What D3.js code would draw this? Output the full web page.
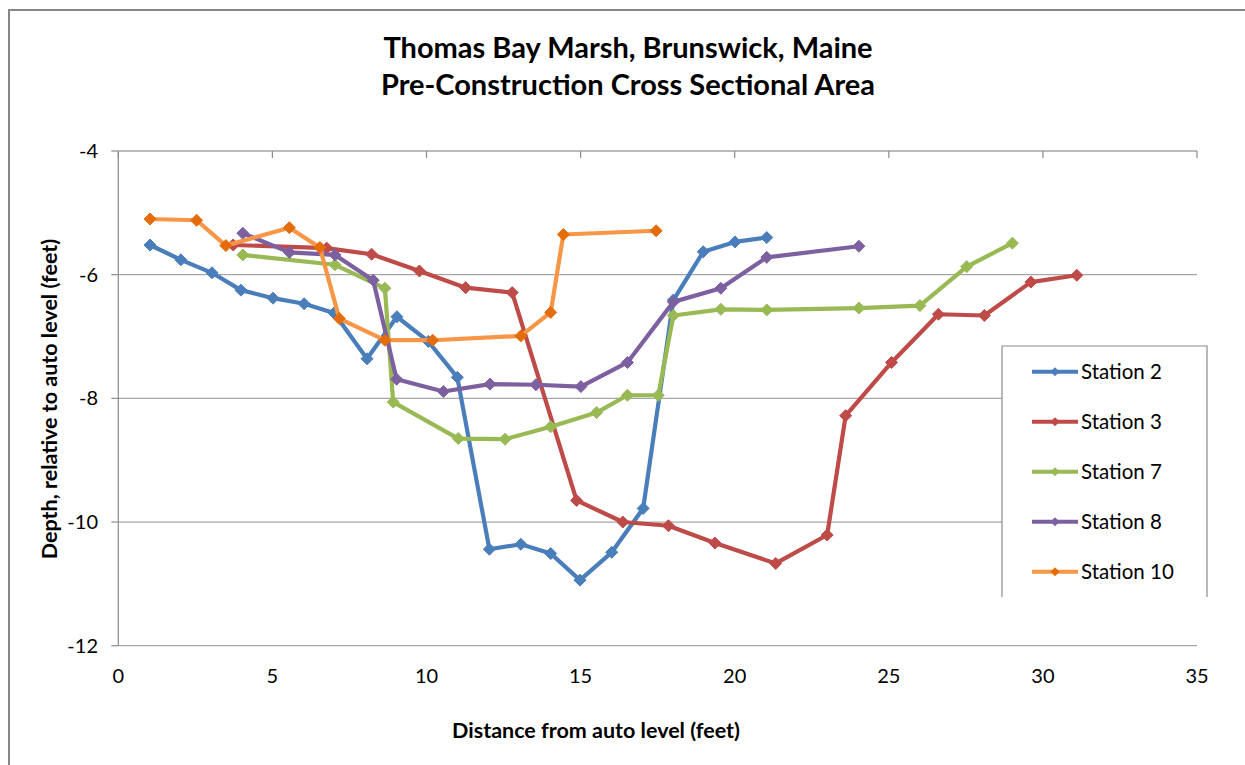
<!DOCTYPE html>
<html>
<head>
<meta charset="utf-8">
<script src="https://cdn.jsdelivr.net/npm/d3@7"></script>
<style>
  html, body { margin: 0; padding: 0; background: #fff; }
  svg { display: block; }
  text { font-family: Lato, "Open Sans", sans-serif; fill: #000; }
</style>
</head>
<body>
<svg id="chart" width="1245" height="765"></svg>
<script>
// ---- data ----
const titleLines = ["Thomas Bay Marsh, Brunswick, Maine", "Pre-Construction Cross Sectional Area"];
const xAxisTitle = "Distance from auto level (feet)";
const yAxisTitle = "Depth, relative to auto level (feet)";
const xTicks = [0, 5, 10, 15, 20, 25, 30, 35];
const yTicks = [-4, -6, -8, -10, -12];
const seriesNames = ["Station 2", "Station 3", "Station 7", "Station 8", "Station 10"];

const station2X = [1.03, 2.03, 3.04, 3.98, 5.02, 6.03, 7.0, 8.07, 9.04, 10.06, 11.0, 12.04, 13.06, 14.03, 14.98, 16.01, 17.03, 18.01, 18.98, 20.01, 21.04];
const station2Y = [-5.52, -5.76, -5.97, -6.25, -6.38, -6.47, -6.62, -7.36, -6.68, -7.08, -7.66, -10.44, -10.36, -10.51, -10.94, -10.49, -9.78, -6.41, -5.63, -5.47, -5.40];

const station3X = [3.73, 6.76, 8.22, 9.77, 11.27, 12.78, 14.87, 16.37, 17.85, 19.36, 21.33, 23.0, 23.6, 25.09, 26.61, 28.1, 29.61, 31.1];
const station3Y = [-5.52, -5.57, -5.67, -5.94, -6.21, -6.29, -9.65, -10.0, -10.06, -10.34, -10.67, -10.21, -8.28, -7.42, -6.64, -6.66, -6.12, -6.01];

const station7X = [4.04, 7.03, 8.65, 8.92, 11.03, 12.55, 14.03, 15.52, 16.52, 17.52, 18.01, 19.55, 21.04, 24.03, 26.01, 27.53, 29.01];
const station7Y = [-5.68, -5.84, -6.22, -8.06, -8.65, -8.66, -8.46, -8.23, -7.95, -7.95, -6.66, -6.56, -6.57, -6.54, -6.50, -5.87, -5.49];

const station8X = [4.04, 5.55, 7.03, 8.27, 9.03, 10.55, 12.06, 13.55, 15.01, 16.52, 18.01, 19.55, 21.04, 24.03];
const station8Y = [-5.33, -5.64, -5.68, -6.09, -7.69, -7.89, -7.77, -7.78, -7.81, -7.42, -6.44, -6.22, -5.72, -5.54];

const station10X = [1.03, 2.54, 3.49, 5.55, 6.54, 7.17, 8.65, 10.2, 13.06, 14.03, 14.44, 17.45];
const station10Y = [-5.10, -5.12, -5.53, -5.24, -5.56, -6.71, -7.06, -7.06, -6.99, -6.61, -5.35, -5.29];

const lineColors = ["#4A7EBB", "#BE4B48", "#98B954", "#7D60A0", "#F79646"];
const markerColors = ["#4A7EBB", "#BE4B48", "#98B954", "#7D60A0", "#E46C0A"];

const seriesX = [station2X, station3X, station7X, station8X, station10X];
const seriesY = [station2Y, station3Y, station7Y, station8Y, station10Y];

// ---- layout ----
const svg = d3.select("#chart");
const plot = { left: 118.3, right: 1197, top: 151, bottom: 645.7 };
const x = d3.scaleLinear().domain([0, 35]).range([plot.left, plot.right]);
const y = d3.scaleLinear().domain([-12, -4]).range([plot.bottom, plot.top]);

// outer chart border
svg.append("path")
  .attr("d", "M9,770 L9,10 L1250,10")
  .attr("fill", "none").attr("stroke", "#868686").attr("stroke-width", 2);

// gridlines
svg.append("g").selectAll("line").data(yTicks).join("line")
  .attr("x1", plot.left).attr("x2", plot.right)
  .attr("y1", d => y(d)).attr("y2", d => y(d))
  .attr("stroke", "#a6a6a6").attr("stroke-width", 1.3);

// y axis line + ticks
svg.append("line").attr("x1", plot.left).attr("x2", plot.left)
  .attr("y1", plot.top).attr("y2", plot.bottom)
  .attr("stroke", "#8c8c8c").attr("stroke-width", 1.2);
svg.append("g").selectAll("line").data(yTicks).join("line")
  .attr("x1", plot.left - 7).attr("x2", plot.left)
  .attr("y1", d => y(d)).attr("y2", d => y(d))
  .attr("stroke", "#8c8c8c").attr("stroke-width", 1.2);
svg.append("g").selectAll("text").data(yTicks).join("text")
  .attr("x", 98).attr("y", d => y(d)).attr("dy", "0.35em")
  .attr("text-anchor", "end").attr("font-size", 20)
  .text(d => d);

// x axis (at top, y=-4) ticks pointing inward
svg.append("g").selectAll("line").data(xTicks).join("line")
  .attr("x1", d => x(d)).attr("x2", d => x(d))
  .attr("y1", plot.top).attr("y2", plot.top + 7)
  .attr("stroke", "#8c8c8c").attr("stroke-width", 1.2);
svg.append("g").selectAll("text").data(xTicks).join("text")
  .attr("x", d => x(d)).attr("y", 683)
  .attr("text-anchor", "middle").attr("font-size", 20)
  .text(d => d);

// titles
svg.append("g").selectAll("text").data(titleLines).join("text")
  .attr("x", 628).attr("y", (d, i) => 58 + i * 37)
  .attr("text-anchor", "middle").attr("font-size", 29).attr("font-weight", "bold")
  .text(d => d);
svg.append("text").attr("x", 596).attr("y", 738)
  .attr("text-anchor", "middle").attr("font-size", 21.5).attr("font-weight", "bold")
  .text(xAxisTitle);
svg.append("text").attr("transform", "translate(57,399) rotate(-90)")
  .attr("text-anchor", "middle").attr("font-size", 21.5).attr("font-weight", "bold")
  .text(yAxisTitle);

// diamond symbol
const diamond = {
  draw(ctx, size) {
    const r = Math.sqrt(size / 2);
    ctx.moveTo(0, -r); ctx.lineTo(r, 0); ctx.lineTo(0, r); ctx.lineTo(-r, 0); ctx.closePath();
  }
};

// series
const line = d3.line().x(d => x(d[0])).y(d => y(d[1]));
seriesNames.forEach((name, i) => {
  const pts = seriesX[i].map((v, j) => [v, seriesY[i][j]]);
  const g = svg.append("g");
  g.append("path").datum(pts).attr("d", line)
    .attr("fill", "none").attr("stroke", lineColors[i]).attr("stroke-width", 4.2)
    .attr("stroke-linejoin", "round").attr("stroke-linecap", "round");
  g.selectAll("path.m").data(pts).join("path").attr("class", "m")
    .attr("transform", d => `translate(${x(d[0])},${y(d[1])})`)
    .attr("d", d3.symbol().type(diamond).size(72))
    .attr("fill", markerColors[i]).attr("stroke", markerColors[i]).attr("stroke-width", 1);
});

// legend
const lg = svg.append("g");
lg.append("rect").attr("x", 1002).attr("y", 346).attr("width", 205).attr("height", 251).attr("fill", "#fff");
lg.append("path").attr("d", "M1002,597 L1002,346 L1207,346 L1207,597")
  .attr("fill", "none").attr("stroke", "#8c8c8c").attr("stroke-width", 1.2);
seriesNames.forEach((name, i) => {
  const cy = 371.7 + i * 50;
  lg.append("line").attr("x1", 1032).attr("x2", 1078).attr("y1", cy).attr("y2", cy)
    .attr("stroke", lineColors[i]).attr("stroke-width", 4);
  lg.append("path").attr("transform", `translate(1055,${cy})`)
    .attr("d", d3.symbol().type(diamond).size(40)).attr("fill", markerColors[i]);
  lg.append("text").attr("x", 1081).attr("y", cy).attr("dy", "0.35em")
    .attr("font-size", 20.5).text(name);
});
</script>
</body>
</html>
